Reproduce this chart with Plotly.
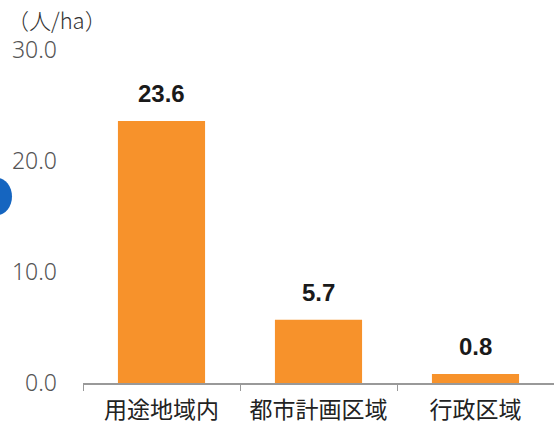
import plotly.graph_objects as go

categories = ["用途地域内", "都市計画区域", "行政区域"]
values = [23.6, 5.7, 0.8]
value_labels = ["23.6", "5.7", "0.8"]
tick_vals = [0, 10, 20, 30]
tick_text = ["0.0", "10.0", "20.0", "30.0"]
unit_label = "（人/ha）"

fig = go.Figure()
fig.add_trace(go.Bar(
    x=categories, y=values,
    marker=dict(color="#F7922B", line=dict(width=0)),
    width=0.555,
))
annotations = [dict(
    x=c, y=v, text=t, showarrow=False, yanchor="bottom", yshift=12,
    font=dict(family="Liberation Sans Narrow, Liberation Sans, Arial", size=24, color="#1a1a1a", weight="bold"),
) for c, v, t in zip(categories, values, value_labels)]
annotations.append(dict(
    text=unit_label, xref="paper", yref="paper", x=-78/471, y=1 + 31/333,
    xanchor="left", yanchor="middle", showarrow=False,
    font=dict(family="Noto Sans CJK JP", size=22, color="#333333", weight=300),
))
fig.update_layout(
    width=554, height=426,
    margin=dict(l=83, r=0, t=50, b=43),
    paper_bgcolor="white", plot_bgcolor="white",
    showlegend=False,
    xaxis=dict(
        showline=True, linecolor="#999999", linewidth=1.5,
        ticks="outside", tickson="boundaries", ticklen=6, tickcolor="#999999",
        tickfont=dict(family="Noto Sans CJK JP", size=23, color="#222222"),
        ticklabelstandoff=6,
        showgrid=False,
    ),
    yaxis=dict(
        range=[0, 30], tickvals=tick_vals, ticktext=tick_text,
        showgrid=False, zeroline=False, showline=False,
        tickfont=dict(family="Noto Sans, Arial", size=23, color="#555555", weight=300),
        ticklabelstandoff=25,
    ),
    annotations=annotations,
    shapes=[dict(
        type="circle", xref="paper", yref="paper",
        x0=-100/471, x1=-71/471, y0=(383-215)/333, y1=(383-178)/333,
        fillcolor="#1565C0", line=dict(width=0), layer="above",
    )],
)
fig.write_html("out.html")
